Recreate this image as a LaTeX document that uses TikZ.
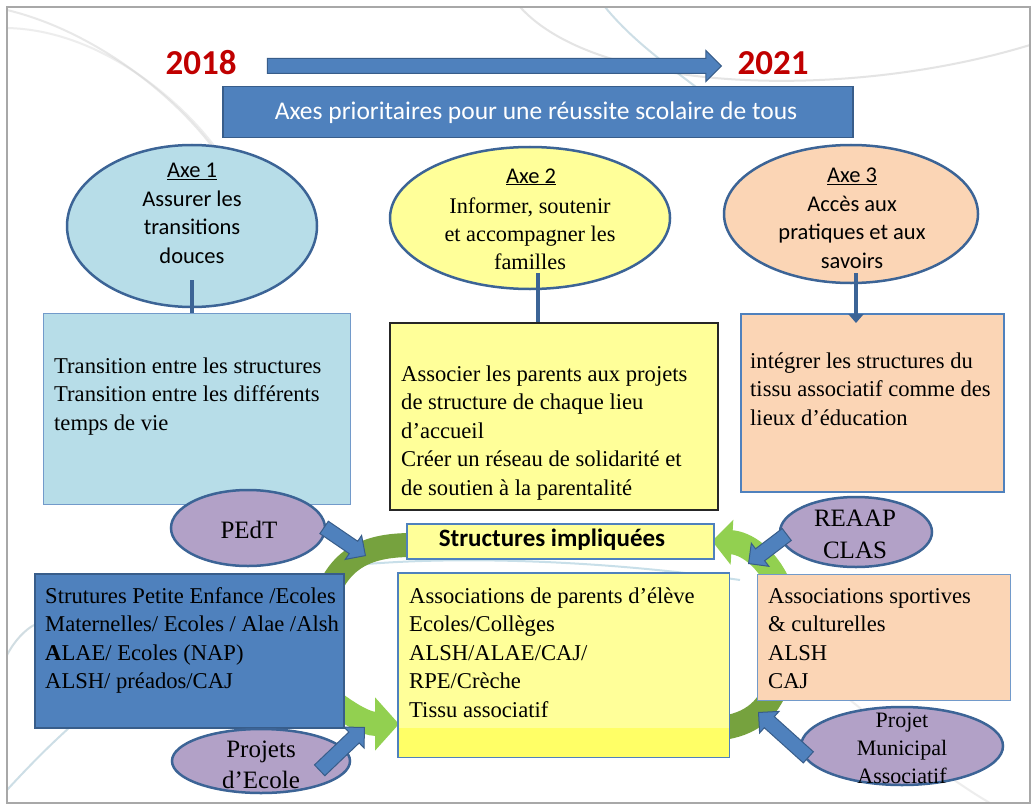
\documentclass[tikz,border=0pt]{standalone}
\usepackage{fontspec}
\setmainfont{Liberation Serif}
\newfontfamily\calfont{Carlito}
\usetikzlibrary{shapes.geometric,shapes.arrows,arrows.meta}
\definecolor{blueFill}{HTML}{4F81BD}
\definecolor{blueDraw}{HTML}{385D8A}
\definecolor{ellb}{HTML}{3C6496}
\definecolor{lblue}{HTML}{B7DDE8}
\definecolor{yel}{HTML}{FFFF99}
\definecolor{yel2}{HTML}{FFFF66}
\definecolor{peach}{HTML}{FBD5B5}
\definecolor{purp}{HTML}{B2A1C7}
\definecolor{gdark}{HTML}{76A23E}
\definecolor{glight}{HTML}{92D050}
\definecolor{yearred}{HTML}{C00000}
\definecolor{frameg}{HTML}{A8A8A8}
\begin{document}
\begin{tikzpicture}[x=1pt,y=-1pt,
  ell/.style={ellipse, draw=ellb, line width=2.5pt, inner sep=0pt},
  boxn/.style={rectangle, inner sep=0pt, anchor=north west},
  body/.style={font=\fontsize{22.6}{28.5}\selectfont, align=left, inner sep=0pt, anchor=base west},
  caltxt/.style={font=\calfont\fontsize{22.5}{28.5}\selectfont, align=center, inner sep=0pt, anchor=base},
  sertxt/.style={font=\fontsize{22.3}{28}\selectfont, align=center, inner sep=0pt, anchor=base},
  conn/.style={draw=ellb, line width=4.5pt},
  barrow/.style={single arrow, fill=blueFill, draw=blueDraw, line width=1pt, inner sep=7pt,
     single arrow head extend=7pt, single arrow head indent=0pt, anchor=tip},
  garc/.style={line width=24pt},
  swoosh/.style={line width=2pt, opacity=0.35}
]
\useasboundingbox (0,0) rectangle (1032,805);
\fill[white] (0,0) rectangle (1032,805);
% faint background curves
\draw[swoosh, draw=gray!60] (520,7) .. controls (600,95) and (850,100) .. (1030,45);
\draw[swoosh, draw=cyan!40!gray] (605,7) .. controls (640,50) and (690,80) .. (725,110);
\draw[swoosh, draw=gray!50] (7,10) .. controls (90,30) and (170,90) .. (215,150);
\draw[swoosh, draw=gray!40] (7,28) .. controls (100,30) and (180,100) .. (215,147);
\draw[swoosh, draw=cyan!40!gray] (7,790) .. controls (30,765) and (50,745) .. (70,727);
\draw[swoosh, draw=cyan!50!gray] (345,566) .. controls (450,555) and (600,560) .. (740,580);
\draw[swoosh, draw=gray!40] (850,700) .. controls (900,740) and (950,780) .. (990,803);
\draw[swoosh, draw=cyan!30!gray] (7,655) .. controls (15,640) and (25,630) .. (34,625);
% frame
\draw[frameg, line width=1.2pt] (7,7) rectangle (1030,803);

% years and arrow
\node[font=\calfont\bfseries\fontsize{35}{35}\selectfont, text=yearred, inner sep=0pt, anchor=base] (y1) at (201,75) {2018};
\node[font=\calfont\bfseries\fontsize{35}{35}\selectfont, text=yearred, inner sep=0pt, anchor=base] (y2) at (773,75) {2021};
\node[barrow, minimum height=454pt, single arrow head extend=8pt] (tarr) at (722,66) {};

% banner
\node[boxn, fill=blueFill, draw=blueDraw, line width=1.5pt, minimum width=630pt, minimum height=51pt] (ban) at (222,86) {};
\node[font=\calfont\fontsize{25.5}{28}\selectfont, text=white, inner sep=0pt, anchor=base] (bant) at (536,120) {Axes prioritaires pour une réussite scolaire de tous};

% green cycle arcs (behind)
\draw[garc, draw=gdark] (325,600) .. controls (340,556) and (370,545) .. (412,545);
\draw[garc, draw=glight, -{Triangle[width=52pt,length=24pt]}] (318,690) .. controls (345,712) and (365,724) .. (399,724);
\draw[garc, draw=glight, -{Triangle[width=44pt,length=20pt]}] (782,592) .. controls (768,556) and (745,543) .. (712,541);
\draw[garc, draw=gdark] (712,729) .. controls (748,727) and (768,712) .. (778,682);

% ellipses (axes)
\node[ell, fill=lblue, minimum width=250pt, minimum height=162pt] (e1) at (192,226) {};
\node[ell, fill=yel, minimum width=280pt, minimum height=142pt] (e2) at (530,218) {};
\node[ell, fill=peach, minimum width=254pt, minimum height=138pt] (e3) at (851,214) {};

% (anchor=base of a multi-line node = baseline of its last line)
\node[caltxt] (e1t) at (192,263) {\underline{Axe 1}\\Assurer les\\transitions\\douces};
\node[caltxt] (e2h) at (531,183) {\underline{Axe 2}};
\node[sertxt] (e2t) at (530,269) {Informer, soutenir\\et accompagner les\\familles};
\node[caltxt] (e3t) at (852,268) {\underline{Axe 3}\\Accès aux\\pratiques et aux\\savoirs};

% boxes of axes
\node[boxn, fill=lblue, draw=blueFill!80, line width=1pt, minimum width=307pt, minimum height=191pt] (b1) at (43,313) {};
\node[boxn, fill=yel, draw=black!85, line width=1.5pt, minimum width=328pt, minimum height=187pt] (b2) at (389,322) {};
\node[boxn, fill=peach, draw=blueFill, line width=1.5pt, minimum width=263pt, minimum height=178pt] (b3) at (740,313) {};

\draw[conn] ([yshift=28pt]e1.south) -- (e1.south |- b1.north);
\draw[conn] ([xshift=8pt,yshift=17pt]e2.south) -- ([xshift=8pt]e2.south |- b2.north);
\draw[conn, -{Triangle[width=15pt,length=9pt]}] ([xshift=5pt,yshift=11pt]e3.south) -- ([xshift=5pt,yshift=-10pt]e3.south |- b3.north);

\node[body] (b1t) at (54,430) {Transition entre les structures\\Transition entre les différents\\temps de vie};
\node[body] (b2t) at (401,495) {Associer les parents aux projets\\de structure de chaque lieu\\d’accueil\\Créer un réseau de solidarité et\\de soutien à la parentalité};
\node[body] (b3t) at (750,425) {intégrer les structures du\\tissu associatif comme des\\lieux d’éducation};

% structures impliquees
\node[boxn, fill=yel, draw=blueFill, line width=2pt, minimum width=307pt, minimum height=35pt] (si) at (406,523) {};
\node[font=\calfont\bfseries\fontsize{25}{27}\selectfont, inner sep=0pt, anchor=base] (sit) at (552,546) {Structures impliquées};

% bottom boxes
\node[boxn, fill=blueFill, draw=blueDraw, line width=1.5pt, minimum width=309pt, minimum height=154pt] (b4) at (34,573) {};
\node[boxn, fill=yel, minimum width=331pt, minimum height=184pt] (b5) at (398,573) {};
\fill[yel2] (b5.south west) rectangle ([yshift=29pt]b5.south east);
\draw[blueFill, line width=1.5pt] (b5.south west) rectangle (b5.north east);
\node[boxn, fill=peach, draw=blueFill!80, line width=1.2pt, minimum width=253pt, minimum height=126pt] (b6) at (757,574) {};

\node[body] (b4t) at (45,688.5) {Strutures Petite Enfance /Ecoles\\Maternelles/ Ecoles / Alae /Alsh\\\textbf{A}LAE/ Ecoles (NAP)\\ALSH/ préados/CAJ};
\node[body] (b5t) at (409,717) {Associations de parents d’élève\\Ecoles/Collèges\\ALSH/ALAE/CAJ/\\RPE/Crèche\\Tissu associatif};
\node[body] (b6t) at (768,688.5) {Associations sportives\\\& culturelles\\ALSH\\CAJ};

% purple ellipses
\node[ell, fill=purp, minimum width=154pt, minimum height=76pt] (pe) at (248,528) {};
\node[ell, fill=purp, minimum width=178pt, minimum height=64pt] (pr) at (261,761) {};
\node[ell, fill=purp, minimum width=152pt, minimum height=70pt] (re) at (856,532) {};
\node[ell, fill=purp, minimum width=202pt, minimum height=78pt] (mu) at (902,746) {};

\node[font=\fontsize{25}{31}\selectfont, align=center, inner sep=0pt, anchor=base] (pet) at (249,538) {PEdT};
\node[font=\fontsize{25}{31}\selectfont, align=center, inner sep=0pt, anchor=base] (prt) at (261,788) {Projets\\d’Ecole};
\node[font=\fontsize{25}{32}\selectfont, align=center, inner sep=0pt, anchor=base] (ret) at (855,558) {REAAP\\CLAS};
\node[font=\fontsize{22}{28}\selectfont, align=center, inner sep=0pt, anchor=base] (mut) at (902,783) {Projet\\Municipal\\Associatif};

% blue block arrows
\node[barrow, rotate=-34.3, minimum height=50pt] (a1) at (366,556) {};
\node[barrow, rotate=43.7, minimum height=62pt] (a2) at (365,727) {};
\node[barrow, rotate=-142.7, minimum height=48pt] (a3) at (748,564) {};
\node[barrow, rotate=138, minimum height=67pt] (a4) at (758,712) {};
\end{tikzpicture}
\end{document}
